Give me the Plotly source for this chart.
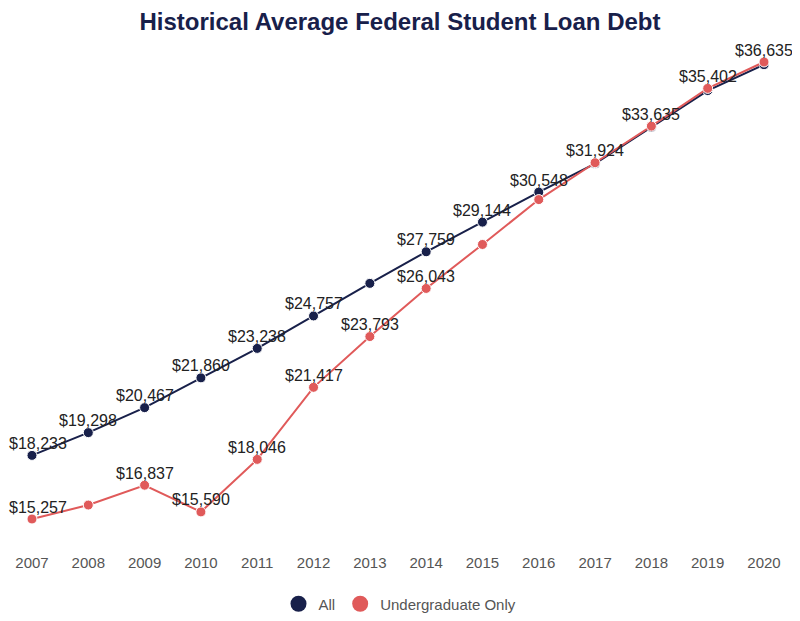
import plotly.graph_objects as go

years = [str(y) for y in range(2007, 2021)]
all_debt = [18233, 19298, 20467, 21860, 23238, 24757, 26280, 27759,
            29144, 30548, 31880, 33590, 35300, 36510]
undergrad_debt = [15257, 15910, 16837, 15590, 18046, 21417, 23793, 26043,
                  28100, 30200, 31924, 33635, 35402, 36635]

# labels that are visible in the original (others hidden because they overlap)
all_show = [1, 1, 1, 1, 1, 1, 0, 1, 1, 1, 0, 0, 0, 0]
ug_show = [1, 0, 1, 1, 1, 1, 1, 1, 0, 0, 1, 1, 1, 1]

navy = "#18204a"
red = "#e05a5a"

fig = go.Figure()
for name, vals, color in [("All", all_debt, navy),
                          ("Undergraduate Only", undergrad_debt, red)]:
    fig.add_trace(go.Scatter(
        x=years, y=vals, name=name, mode="lines+markers", showlegend=False,
        line=dict(color=color, width=2),
        marker=dict(size=10, color=color, line=dict(color="white", width=1)),
        cliponaxis=False,
    ))
# legend entries: plain circles
for name, color in [("All", navy), ("Undergraduate Only", red)]:
    fig.add_trace(go.Scatter(
        x=[None], y=[None], name=name, mode="markers",
        marker=dict(size=16, color=color),
    ))

# value labels (x given as category index)
for vals, show in [(all_debt, all_show), (undergrad_debt, ug_show)]:
    for i, (v, s) in enumerate(zip(vals, show)):
        if s:
            fig.add_annotation(x=i, y=v, xref="x", yref="y",
                               text="${:,}".format(v),
                               showarrow=False, yanchor="middle", yshift=12,
                               xshift=6 if i == 0 else 0,  # keep first label inside
                               font=dict(family="Arial", size=16, color="#222"))

fig.update_layout(
    width=784, height=605,
    margin=dict(l=0, r=0, t=32, b=73, autoexpand=False),
    paper_bgcolor="white", plot_bgcolor="white",
    font=dict(family="Arial", color="#444"),
    title=dict(text="<b>Historical Average Federal Student Loan Debt</b>",
               x=0.5, xanchor="center", y=0.977, yanchor="middle",
               font=dict(size=24, color=navy, family="Arial")),
    xaxis=dict(type="category", range=[-0.426, 13.497], showgrid=False,
               showline=False, zeroline=False, ticks="",
               ticklabelstandoff=12, tickfont=dict(size=15, color="#555")),
    yaxis=dict(range=[14275, 37665], visible=False),
    legend=dict(orientation="h", x=0.5, xanchor="center", y=-0.128,
                yanchor="middle", font=dict(size=15, color="#555"),
                itemsizing="trace"),
)

fig.write_html("out.html")
